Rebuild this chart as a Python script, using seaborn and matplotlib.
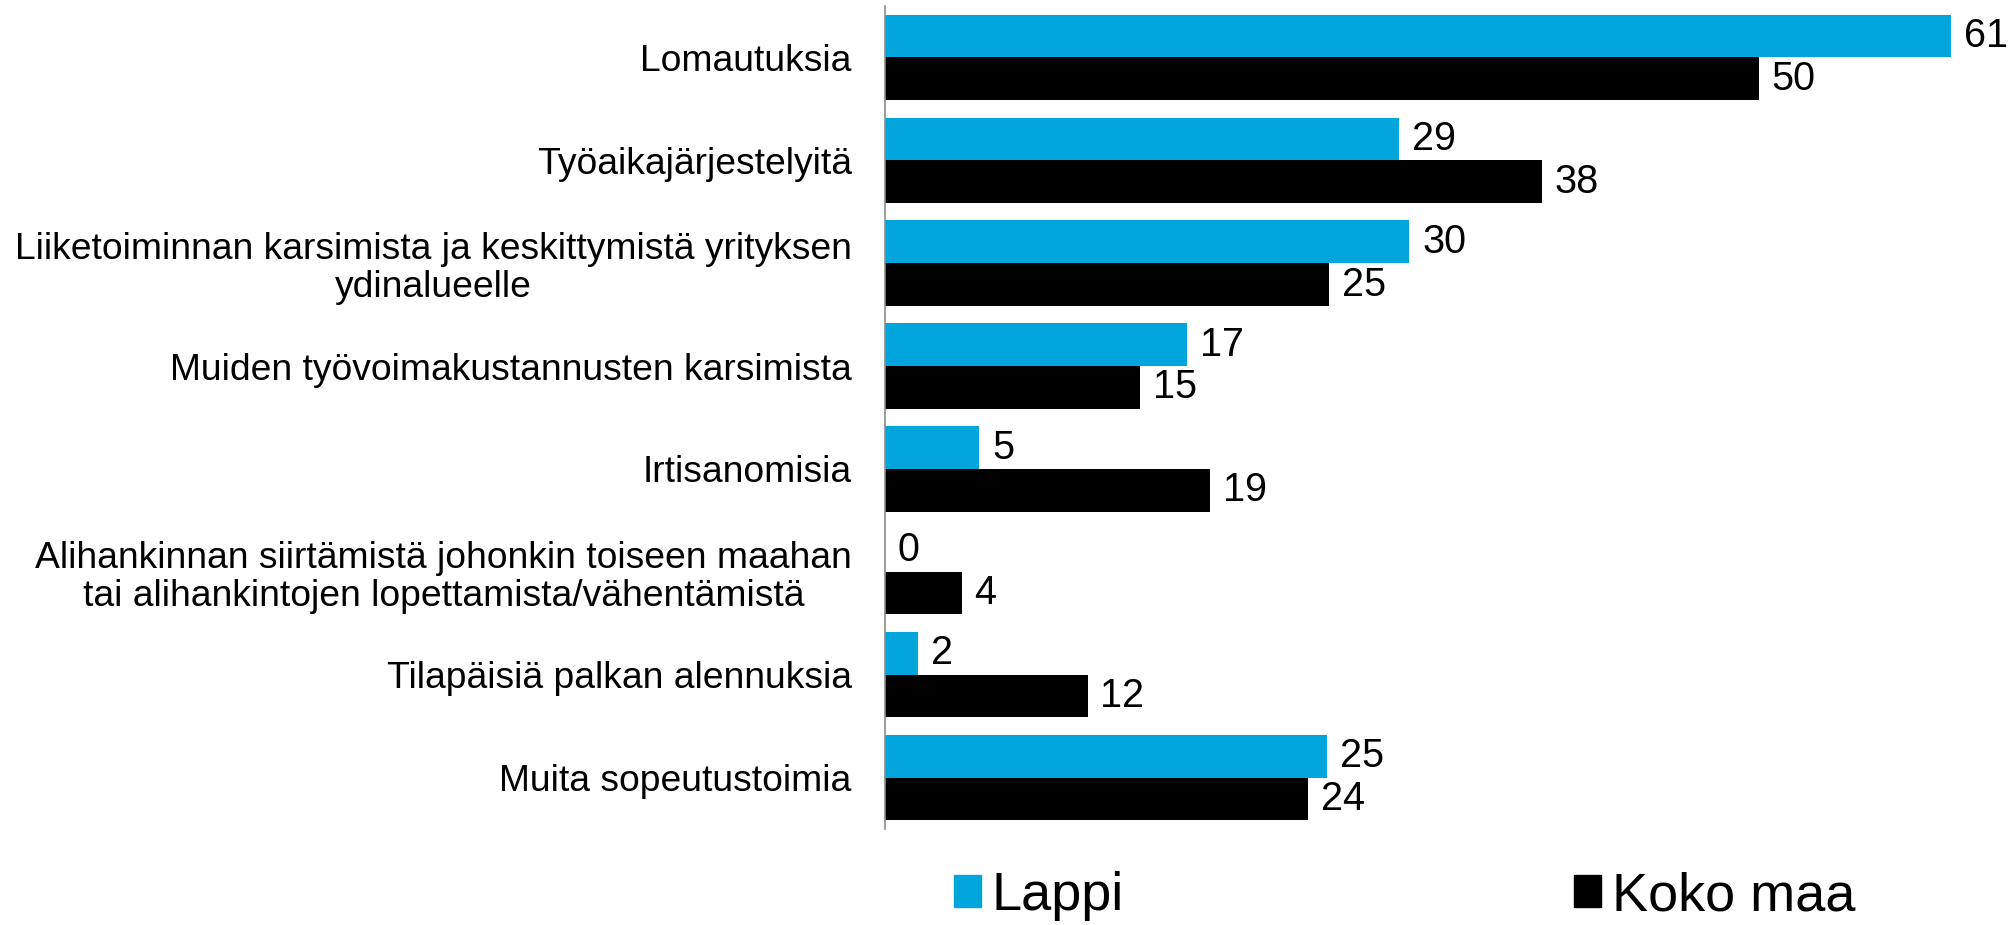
import matplotlib
matplotlib.use("Agg")
import matplotlib.pyplot as plt
import pandas as pd
import seaborn as sns

categories = [
    "Lomautuksia",
    "Työaikajärjestelyitä",
    "Liiketoiminnan karsimista ja keskittymistä yrityksen\nydinalueelle",
    "Muiden työvoimakustannusten karsimista",
    "Irtisanomisia",
    "Alihankinnan siirtämistä johonkin toiseen maahan\ntai alihankintojen lopettamista/vähentämistä",
    "Tilapäisiä palkan alennuksia",
    "Muita sopeutustoimia",
]
lappi = [61.0, 29.4, 30.0, 17.3, 5.4, 0.0, 1.9, 25.3]
koko_maa = [50.0, 37.6, 25.4, 14.6, 18.6, 4.4, 11.6, 24.2]
series = ["Lappi", "Koko maa"]
colors = ["#00A5DB", "#000000"]

df = pd.DataFrame({
    "kategoria": categories * 2,
    "sarja": [series[0]] * len(categories) + [series[1]] * len(categories),
    "arvo": lappi + koko_maa,
})

sns.set_theme(style="white")
plt.rcParams["font.family"] = ["Liberation Sans", "DejaVu Sans"]
plt.rcParams["text.color"] = "black"
plt.rcParams["ytick.color"] = "black"

fig = plt.figure(figsize=(20.16, 9.25), dpi=100)
ax = fig.add_axes([0.439, 0.1038, 0.555, 0.8897])

sns.barplot(data=df, y="kategoria", x="arvo", hue="sarja", hue_order=series,
            palette=colors, orient="h", width=0.83, saturation=1, ax=ax,
            edgecolor="none", legend=False)

for cont in ax.containers:
    ax.bar_label(cont, fmt="%.0f", padding=9, fontsize=28.5, color="black")

ax.set_xlim(0, 64)
ax.set_ylim(len(categories) - 0.5, -0.5)
ax.set_xlabel("")
ax.set_ylabel("")
ax.set_xticks([])
ax.tick_params(axis="y", length=0, pad=24, labelsize=26.8, labelcolor="black")
for lab in ax.get_yticklabels():
    lab.set_multialignment("center")
    lab.set_linespacing(1.1)
for s in ["top", "right", "bottom"]:
    ax.spines[s].set_visible(False)
ax.spines["left"].set_color("#8c8c8c")
ax.spines["left"].set_linewidth(1.2)

handles = [plt.Rectangle((0, 0), 1, 1, color=c) for c in colors]
fig.legend(handles, series, loc="center left", bbox_to_anchor=(954 / 2016, 0.031),
           ncol=2, frameon=False, fontsize=39, handlelength=0.5, handleheight=0.55,
           handletextpad=0.2, columnspacing=8.3, borderpad=0, borderaxespad=0)

fig.savefig("out.png", dpi=100, facecolor="white")
